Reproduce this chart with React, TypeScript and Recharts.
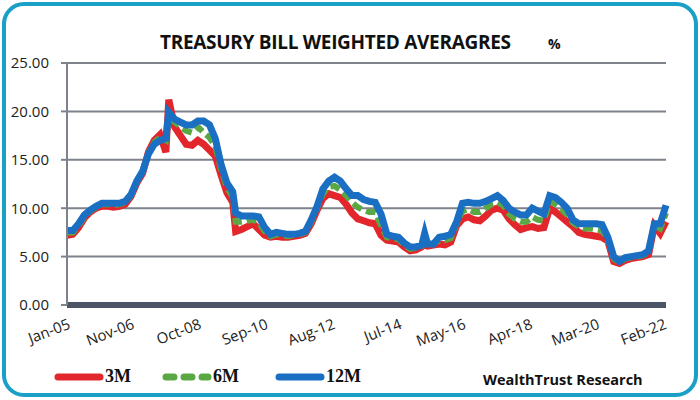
import { CartesianGrid, Line, LineChart, XAxis, YAxis } from 'recharts'

// month index counted from Jan-05
const months = [
  0, 2, 4, 6, 8, 10, 12, 14, 16, 18, 20, 22, 24, 26, 28, 30, 32, 34, 35, 37, 39, 41, 43, 45, 47, 49, 51, 53, 55, 57,
  58, 60, 62, 64, 66, 68, 70, 72, 74, 76, 78, 80, 82, 84, 86, 88, 90, 92, 94, 96, 98, 100, 102, 104, 106, 108, 110,
  112, 114, 116, 118, 120, 122, 123, 124, 126, 128, 130, 132, 134, 136, 138, 140, 142, 144, 146, 148, 150, 152, 154,
  156, 158, 160, 162, 164, 166, 168, 170, 172, 174, 176, 178, 180, 182, 184, 186, 188, 190, 192, 194, 196, 198, 200,
  202, 204, 206,
]

const rate3m = [
  7.2, 7.3, 8.0, 9.0, 9.6, 10.0, 10.2, 10.2, 10.1, 10.2, 10.4, 11.2, 12.6, 13.6, 15.8, 17.0, 17.6, 15.8, 21.2, 18.4,
  17.5, 16.6, 16.5, 17.0, 16.6, 16.0, 15.4, 13.4, 11.6, 10.6,
  7.6, 7.8, 8.1, 8.4, 7.8, 7.2, 7.0, 7.1, 7.0, 7.0, 7.1, 7.2, 7.4, 8.4, 9.8, 11.0, 11.5, 11.3, 11.1, 10.4, 9.5, 8.9,
  8.7, 8.5, 8.4, 7.2, 6.7, 6.6, 6.5, 6.0, 5.6, 5.7, 6.0, 6.3, 6.1, 6.2, 6.3, 6.2, 6.5, 8.2, 8.9, 9.1, 8.8, 8.7, 9.2,
  9.8, 10.0, 9.8, 8.9, 8.3, 7.8, 8.0, 8.1, 7.9, 8.0, 10.0, 9.6, 9.1, 8.6, 8.1, 7.5, 7.3, 7.2, 7.1, 7.0, 6.6, 4.5, 4.3,
  4.6, 4.8, 4.9, 5.0, 5.2, 8.2, 7.4, 8.6,
]

const rate6m = [
  7.5, 7.5, 8.2, 9.1, 9.7, 10.1, 10.4, 10.4, 10.3, 10.4, 10.6, 11.3, 12.7, 13.7, 15.7, 16.8, 17.3, 17.0, 19.5, 18.9,
  18.4, 18.0, 17.8, 18.4, 17.8, 17.3, 16.4, 14.0, 12.1, 11.2,
  8.6, 8.6, 8.7, 8.8, 8.5, 7.6, 7.1, 7.3, 7.2, 7.1, 7.2, 7.3, 7.5, 8.6, 10.0, 11.5, 12.2, 12.3, 11.9, 11.3, 10.6,
  10.1, 9.8, 9.6, 9.6, 8.2, 7.0, 6.9, 6.8, 6.2, 5.8, 5.9, 6.1, 6.6, 6.2, 6.3, 6.7, 6.7, 6.9, 8.4, 9.7, 9.9, 9.6, 9.6,
  10.0, 10.4, 10.6, 10.3, 9.4, 8.9, 8.6, 8.6, 9.1, 8.8, 8.7, 10.7, 10.4, 9.9, 9.3, 8.5, 8.1, 7.9, 7.9, 7.8, 7.7, 6.8,
  4.8, 4.4, 4.8, 4.9, 5.0, 5.1, 5.4, 8.3, 7.9, 9.5,
]

const rate12m = [
  7.7, 7.7, 8.4, 9.3, 9.8, 10.2, 10.5, 10.5, 10.5, 10.5, 10.7, 11.4, 12.8, 13.8, 15.6, 16.6, 17.0, 17.2, 19.9, 19.2,
  18.9, 18.6, 18.6, 19.0, 19.0, 18.6, 17.2, 14.5, 12.6, 11.7,
  9.5, 9.2, 9.2, 9.2, 9.1, 8.0, 7.3, 7.5, 7.4, 7.3, 7.3, 7.4, 7.6, 8.8, 10.2, 12.0, 12.8, 13.2, 12.8, 12.0, 11.3,
  11.3, 10.9, 10.7, 10.6, 9.4, 7.3, 7.1, 7.0, 6.4, 6.0, 6.0, 6.2, 7.4, 6.3, 6.3, 7.0, 7.1, 7.3, 8.6, 10.5, 10.6, 10.5,
  10.5, 10.7, 11.0, 11.3, 10.8, 10.0, 9.6, 9.3, 9.3, 10.0, 9.7, 9.4, 11.3, 11.1, 10.6, 10.0, 8.8, 8.4, 8.4, 8.4, 8.4,
  8.3, 7.0, 5.0, 4.5, 4.9, 5.0, 5.1, 5.2, 5.6, 8.4, 8.4, 10.3,
]

const tickMonths = [0, 22, 45, 68, 91, 114, 136, 159, 182, 205]
const tickLabels = ['Jan-05', 'Nov-06', 'Oct-08', 'Sep-10', 'Aug-12', 'Jul-14', 'May-16', 'Apr-18', 'Mar-20', 'Feb-22']
const yTicks = [0, 5, 10, 15, 20, 25]

const data = months.map((m, i) => ({
  m,
  r3: rate3m[i],
  r6: rate6m[i],
  r12: rate12m[i],
}))

const labelFont = '"Open Sans", sans-serif'

const MonthTick = ({ x, y, payload }: any) => {
  const idx = tickMonths.indexOf(payload.value)
  return (
    <g transform={`translate(${x},${y + 4})`}>
      <text
        x={0}
        y={0}
        dy={12}
        textAnchor="end"
        transform="rotate(-21)"
        fontFamily={labelFont}
        fontSize={15}
        fill="#222"
      >
        {idx >= 0 ? tickLabels[idx] : ''}
      </text>
    </g>
  )
}

const LegendItem = ({ color, dashed, label, left }: { color: string; dashed?: boolean; label: string; left: number }) => (
  <div style={{ position: 'absolute', left, top: 366, display: 'flex', alignItems: 'center' }}>
    <svg width={50} height={12}>
      <line
        x1={4}
        y1={6}
        x2={46}
        y2={6}
        stroke={color}
        strokeWidth={7}
        strokeLinecap="round"
        strokeDasharray={dashed ? '8 10' : undefined}
      />
    </svg>
    <span
      style={{
        fontFamily: '"Liberation Serif", serif',
        fontWeight: 'bold',
        fontSize: 18,
        color: '#111',
        marginLeft: 1,
      }}
    >
      {label}
    </span>
  </div>
)

const App = () => {
  return (
    <div style={{ position: 'absolute', left: 0, top: 0, width: 700, height: 400, background: '#fff' }}>
      <div
        style={{
          position: 'absolute',
          left: 2,
          top: 2,
          width: 688,
          height: 387,
          border: '4px solid #1a9fc6',
          borderRadius: 22,
        }}
      />
      <div
        style={{
          position: 'absolute',
          left: 160,
          top: 29,
          fontFamily: labelFont,
          fontWeight: 'bold',
          fontSize: 19,
          letterSpacing: -0.3,
          color: '#111',
        }}
      >
        TREASURY BILL WEIGHTED AVERAGRES
      </div>
      <div
        style={{
          position: 'absolute',
          left: 548,
          top: 34,
          fontFamily: labelFont,
          fontWeight: 'bold',
          fontSize: 14,
          color: '#111',
        }}
      >
        %
      </div>

      <div style={{ position: 'absolute', left: 0, top: 0 }}>
        <LineChart width={700} height={400} data={data} margin={{ top: 63, right: 34, bottom: 50, left: 0 }}>
          <CartesianGrid vertical={false} stroke="#7d828b" strokeWidth={2} />
          <XAxis
            dataKey="m"
            type="number"
            domain={[0, 206]}
            ticks={tickMonths}
            tick={<MonthTick />}
            tickLine={false}
            axisLine={{ stroke: '#4b5566', strokeWidth: 6 }}
            height={45}
            interval={0}
          />
          <YAxis
            domain={[0, 25]}
            ticks={yTicks}
            width={67}
            tickFormatter={(v: number) => v.toFixed(2)}
            tick={{ fontFamily: labelFont, fontSize: 15, fill: '#222' }}
            tickLine={{ stroke: '#7d828b', strokeWidth: 2 }}
            axisLine={{ stroke: '#7d828b', strokeWidth: 2 }}
            tickSize={6}
            tickMargin={12}
          />
          <Line dataKey="r3" name="3M" stroke="#e3262b" strokeWidth={7} dot={false} isAnimationActive={false} />
          <Line
            dataKey="r6"
            name="6M"
            stroke="#5aa843"
            strokeWidth={6}
            strokeDasharray="10 5"
            dot={false}
            isAnimationActive={false}
          />
          <Line dataKey="r12" name="12M" stroke="#1b6fc2" strokeWidth={7} dot={false} isAnimationActive={false} />
        </LineChart>
      </div>

      <LegendItem color="#e3262b" label="3M" left={54} />
      <LegendItem color="#5aa843" dashed label="6M" left={162} />
      <LegendItem color="#1b6fc2" label="12M" left={275} />
      <div
        style={{
          position: 'absolute',
          left: 483,
          top: 370,
          fontFamily: labelFont,
          fontWeight: 'bold',
          fontSize: 14.5,
          color: '#111',
        }}
      >
        WealthTrust Research
      </div>
    </div>
  )
}

export default App
